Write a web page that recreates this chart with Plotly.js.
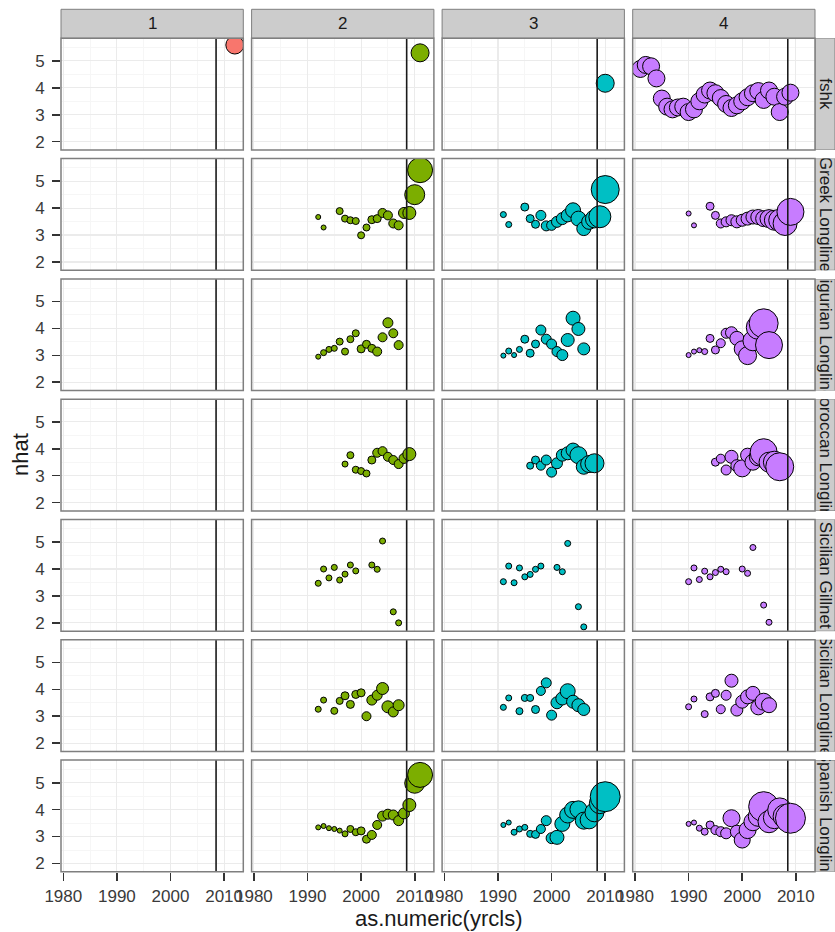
<!DOCTYPE html>
<html><head><meta charset="utf-8">
<script src="https://cdn.plot.ly/plotly-3.0.1.min.js"></script>
<style>html,body{margin:0;padding:0;background:#fff;}#chart{width:835px;height:932px;}</style>
</head><body><div id="chart"></div>
<script>
// ---------- data ----------
const colLabels = ["1", "2", "3", "4"];
const rowLabels = ["fshk", "Greek Longline", "Ligurian Longline", "Moroccan Longline",
                   "Sicilian Gillnet", "Sicilian Longline", "Spanish Longline"];
const groupColors = ["#F8766D", "#7CAE00", "#00BFC4", "#C77CFF"];
const refYear = 2008.5;

const fshk_1_yr = [2012], fshk_1_nhat = [5.59], fshk_1_wt = [32.4];
const fshk_2_yr = [2011], fshk_2_nhat = [5.3], fshk_2_wt = [32.4];
const fshk_3_yr = [2010], fshk_3_nhat = [4.17], fshk_3_wt = [32.4];
const fshk_4_yr = [1981,1982,1983,1984,1985,1986,1987,1988,1989,1990,1991,1992,1993,1994,1995,1996,1997,1998,1999,2000,2001,2002,2003,2004,2005,2006,2007,2008,2009];
const fshk_4_nhat = [4.7,4.85,4.8,4.35,3.6,3.3,3.2,3.27,3.3,3.1,3.2,3.5,3.75,3.9,3.8,3.62,3.4,3.25,3.35,3.5,3.65,3.8,3.88,3.55,3.9,3.67,3.1,3.67,3.82];
const fshk_4_wt = [28.9,28.9,28.9,28.9,28.9,28.9,28.9,28.9,28.9,28.9,28.9,28.9,28.9,28.9,28.9,28.9,28.9,28.9,28.9,28.9,28.9,28.9,28.9,28.9,28.9,28.9,28.9,28.9,28.9];

const greek_2_yr = [1992,1993,1996,1997,1998,1999,2000,2001,2002,2003,2004,2005,2006,2007,2008,2009,2010,2011];
const greek_2_nhat = [3.67,3.28,3.89,3.61,3.55,3.52,2.99,3.28,3.57,3.61,3.82,3.73,3.43,3.36,3.82,3.82,4.5,5.41];
const greek_2_wt = [2.5,2.5,4.9,4.9,4.9,4.9,4.9,4.9,6.4,6.4,8.1,8.1,8.1,8.1,12.1,16.9,40,62.5];
const greek_3_yr = [1991,1992,1995,1996,1997,1998,1999,2000,2001,2002,2003,2004,2005,2006,2007,2008,2009,2010];
const greek_3_nhat = [3.76,3.39,4.04,3.61,3.4,3.73,3.34,3.36,3.49,3.61,3.73,3.92,3.61,3.24,3.49,3.6,3.68,4.69];
const greek_3_wt = [3.6,3.6,6.4,6.4,6.4,10,10,10,12.1,14.4,16.9,22.5,22.5,19.6,22.5,32.4,48.4,78.4];
const greek_4_yr = [1990,1991,1994,1995,1996,1997,1998,1999,2000,2001,2002,2003,2004,2005,2006,2007,2008,2009];
const greek_4_nhat = [3.8,3.36,4.07,3.73,3.43,3.49,3.55,3.49,3.55,3.61,3.67,3.67,3.61,3.61,3.55,3.55,3.43,3.86];
const greek_4_wt = [2.5,2.5,6.4,6.4,8.1,10,12.1,14.4,14.4,16.9,19.6,22.5,25.6,32.4,40,48.4,57.6,72.9];

const ligur_2_yr = [1992,1993,1994,1995,1996,1997,1998,1999,2000,2001,2002,2003,2004,2005,2006,2007];
const ligur_2_nhat = [2.95,3.1,3.22,3.26,3.51,3.14,3.6,3.82,3.24,3.41,3.26,3.14,3.67,4.21,3.82,3.38];
const ligur_2_wt = [2.5,3.6,3.6,3.6,4.9,4.9,4.9,4.9,6.4,6.4,6.4,8.1,8.1,10,8.1,8.1];
const ligur_3_yr = [1991,1992,1993,1994,1995,1996,1997,1998,1999,2000,2001,2002,2003,2004,2005,2006];
const ligur_3_nhat = [2.99,3.16,3.01,3.22,3.6,3.08,3.42,3.94,3.6,3.42,3.14,3.01,3.57,4.38,3.98,3.24];
const ligur_3_wt = [2.5,3.6,2.5,3.6,6.4,6.4,6.4,10,10,10,10,12.1,16.9,19.6,16.9,14.4];
const ligur_4_yr = [1990,1991,1992,1993,1994,1995,1996,1997,1998,1999,2000,2001,2002,2003,2004,2005];
const ligur_4_nhat = [3.01,3.14,3.19,3.14,3.63,3.2,3.45,3.82,3.84,3.63,3.24,2.99,3.54,4.04,4.19,3.38];
const ligur_4_wt = [2.5,2.5,2.5,3.6,6.4,6.4,8.1,10,14.4,19.6,25.6,32.4,40,57.6,84.1,72.9];

const moroc_2_yr = [1997,1998,1999,2000,2001,2002,2003,2004,2005,2006,2007,2008,2009];
const moroc_2_nhat = [3.43,3.76,3.22,3.17,3.08,3.58,3.85,3.91,3.7,3.58,3.43,3.64,3.8];
const moroc_2_wt = [3.6,4.9,4.9,4.9,4.9,6.4,8.1,8.1,8.1,8.1,8.1,10,16.9];
const moroc_3_yr = [1996,1997,1998,1999,2000,2001,2002,2003,2004,2005,2006,2007,2008];
const moroc_3_nhat = [3.37,3.58,3.37,3.58,3.13,3.46,3.76,3.83,3.95,3.76,3.33,3.43,3.46];
const moroc_3_wt = [4.9,6.4,8.1,10,10,12.1,14.4,16.9,19.6,28.9,22.5,28.9,36.1];
const moroc_4_yr = [1995,1996,1997,1998,1999,2000,2001,2002,2003,2004,2005,2006,2007];
const moroc_4_nhat = [3.5,3.63,3.21,3.7,3.37,3.27,3.76,3.5,3.7,3.87,3.5,3.5,3.33];
const moroc_4_wt = [6.4,8.1,10,16.9,14.4,28.9,19.6,25.6,32.4,72.9,40,48.4,78.4];

const sicgn_2_yr = [1992,1993,1994,1995,1996,1997,1998,1999,2002,2003,2004,2006,2007];
const sicgn_2_nhat = [3.47,4.0,3.67,4.06,3.59,3.81,4.15,3.93,4.15,3.99,5.04,2.41,2.0];
const sicgn_2_wt = [3.6,3.6,3.6,3.6,3.6,3.6,3.6,3.6,3.6,3.6,3.6,3.6,3.6];
const sicgn_3_yr = [1991,1992,1993,1994,1995,1996,1997,1998,2001,2002,2003,2005,2006];
const sicgn_3_nhat = [3.53,4.11,3.49,4.04,3.71,3.8,3.99,4.11,4.06,3.9,4.95,2.6,1.85];
const sicgn_3_wt = [3.6,3.6,3.6,3.6,3.6,3.6,3.6,3.6,3.6,3.6,3.6,3.6,3.6];
const sicgn_4_yr = [1990,1991,1992,1993,1994,1995,1996,1997,2000,2001,2002,2004,2005];
const sicgn_4_nhat = [3.53,4.04,3.61,3.92,3.71,3.87,3.99,3.9,4.0,3.84,4.8,2.66,2.02];
const sicgn_4_wt = [3.6,3.6,3.6,3.6,3.6,3.6,3.6,3.6,3.6,3.6,3.6,3.6,3.6];

const sicll_2_yr = [1992,1993,1995,1996,1997,1998,1999,2000,2001,2002,2003,2004,2005,2006,2007];
const sicll_2_nhat = [3.26,3.6,3.2,3.57,3.76,3.44,3.81,3.87,3.0,3.6,3.78,4.03,3.35,3.16,3.41];
const sicll_2_wt = [3.6,3.6,4.9,4.9,6.4,6.4,6.4,6.4,8.1,10,10,14.4,14.4,10,12.1];
const sicll_3_yr = [1991,1992,1994,1995,1996,1997,1998,1999,2000,2001,2002,2003,2004,2005,2006];
const sicll_3_nhat = [3.33,3.68,3.19,3.68,3.68,3.25,3.94,4.24,3.04,3.5,3.66,3.93,3.54,3.41,3.25];
const sicll_3_wt = [3.6,3.6,4.9,4.9,4.9,6.4,8.1,10,10,14.4,16.9,22.5,16.9,16.9,14.4];
const sicll_4_yr = [1990,1991,1993,1994,1995,1996,1997,1998,1999,2000,2001,2002,2003,2004,2005];
const sicll_4_nhat = [3.35,3.64,3.08,3.72,3.85,3.26,3.78,4.32,3.23,3.54,3.72,3.85,3.33,3.54,3.41];
const sicll_4_wt = [3.6,3.6,4.9,6.4,6.4,8.1,10,16.9,14.4,16.9,19.6,19.6,22.5,28.9,22.5];

const spain_2_yr = [1992,1993,1994,1995,1996,1997,1998,1999,2000,2001,2002,2003,2004,2005,2006,2007,2008,2009,2010,2011];
const spain_2_nhat = [3.34,3.39,3.31,3.28,3.22,3.1,3.28,3.16,3.21,2.9,3.06,3.43,3.76,3.83,3.8,3.59,3.86,4.17,4.98,5.29];
const spain_2_wt = [2.5,2.5,2.5,2.5,2.5,3.6,4.9,4.9,6.4,6.4,8.1,8.1,10,10,10,10,12.1,16.9,40,62.5];
const spain_3_yr = [1991,1992,1993,1994,1995,1996,1997,1998,1999,2000,2001,2002,2003,2004,2005,2006,2007,2008,2009,2010];
const spain_3_nhat = [3.43,3.52,3.16,3.28,3.34,3.1,3.08,3.28,3.59,2.94,2.97,3.47,3.8,3.99,4.01,3.59,3.62,3.9,4.24,4.48];
const spain_3_wt = [2.5,2.5,3.6,3.6,3.6,4.9,6.4,8.1,10,12.1,19.6,22.5,25.6,28.9,28.9,28.9,32.4,36.1,44.1,90];
const spain_4_yr = [1990,1991,1992,1993,1994,1995,1996,1997,1998,1999,2000,2001,2002,2003,2004,2005,2006,2007,2008,2009];
const spain_4_nhat = [3.47,3.52,3.31,3.18,3.43,3.24,3.18,3.12,3.68,3.18,2.87,3.24,3.55,3.75,4.11,3.55,3.7,3.99,3.75,3.68];
const spain_4_wt = [2.5,2.5,3.6,4.9,6.4,8.1,10,12.1,28.9,16.9,25.6,28.9,32.4,40,90,48.4,48.4,57.6,57.6,90];

// ---------- layout geometry (pixels) ----------
const W = 835, H = 932;
const colLeft = [61, 251.6, 442.1, 632.7], panelW = 182.3;
const rowTop0 = 38.3, rowPitch = 120.3, panelH = 111.7;
const stripTopY = 9.3, stripRightX0 = 815;
const xRange = [1979.57, 2013.58], yRange = [1.69, 5.84];
const FONT = "Liberation Sans, Arial, Helvetica, sans-serif";

const px = v => v / W;
const py = v => 1 - v / H;
const rowTop = r => rowTop0 + (r - 1) * rowPitch;

const panels = [
  [1,1,fshk_1_yr,fshk_1_nhat,fshk_1_wt],[1,2,fshk_2_yr,fshk_2_nhat,fshk_2_wt],
  [1,3,fshk_3_yr,fshk_3_nhat,fshk_3_wt],[1,4,fshk_4_yr,fshk_4_nhat,fshk_4_wt],
  [2,2,greek_2_yr,greek_2_nhat,greek_2_wt],[2,3,greek_3_yr,greek_3_nhat,greek_3_wt],[2,4,greek_4_yr,greek_4_nhat,greek_4_wt],
  [3,2,ligur_2_yr,ligur_2_nhat,ligur_2_wt],[3,3,ligur_3_yr,ligur_3_nhat,ligur_3_wt],[3,4,ligur_4_yr,ligur_4_nhat,ligur_4_wt],
  [4,2,moroc_2_yr,moroc_2_nhat,moroc_2_wt],[4,3,moroc_3_yr,moroc_3_nhat,moroc_3_wt],[4,4,moroc_4_yr,moroc_4_nhat,moroc_4_wt],
  [5,2,sicgn_2_yr,sicgn_2_nhat,sicgn_2_wt],[5,3,sicgn_3_yr,sicgn_3_nhat,sicgn_3_wt],[5,4,sicgn_4_yr,sicgn_4_nhat,sicgn_4_wt],
  [6,2,sicll_2_yr,sicll_2_nhat,sicll_2_wt],[6,3,sicll_3_yr,sicll_3_nhat,sicll_3_wt],[6,4,sicll_4_yr,sicll_4_nhat,sicll_4_wt],
  [7,2,spain_2_yr,spain_2_nhat,spain_2_wt],[7,3,spain_3_yr,spain_3_nhat,spain_3_wt],[7,4,spain_4_yr,spain_4_nhat,spain_4_wt]
];

const xName = c => 'x' + (c === 1 ? '' : c);
const yName = r => 'y' + (r === 1 ? '' : r);
const axKey = (letter, n) => letter + 'axis' + (n === 1 ? '' : n);

const traces = [];
panels.forEach(([r, c, yr, nh, wt]) => {
  traces.push({
    type: 'scatter', mode: 'markers', x: yr, y: nh,
    xaxis: xName(c), yaxis: yName(r),
    marker: { size: wt, sizemode: 'area', sizeref: 0.2, color: groupColors[c - 1],
              line: { color: '#000000', width: 1 }, opacity: 1 },
    hoverinfo: 'x+y', showlegend: false
  });
});
// empty facets (column 1, rows 2-7): placeholder traces with no drawable point so the subplot exists
for (let r = 2; r <= 7; r++) {
  traces.push({ type: 'scatter', mode: 'markers', x: [null], y: [null],
                xaxis: 'x', yaxis: yName(r), hoverinfo: 'skip', showlegend: false });
}

// right-hand strips: one bar per row in its own subplot so the label is clipped to the strip
rowLabels.forEach((lab, i) => {
  const r = i + 1;
  traces.push({
    type: 'bar', x: [0], y: [1], width: [1], base: [0],
    xaxis: 'x5', yaxis: 'y' + (7 + r),
    marker: { color: '#CCCCCC', line: { color: '#7F7F7F', width: 1 } },
    text: [lab], textposition: 'inside', textangle: 90, insidetextanchor: 'middle',
    constraintext: 'none', cliponaxis: true,
    textfont: { family: FONT, size: 17, color: '#1A1A1A' },
    insidetextfont: { family: FONT, size: 17, color: '#1A1A1A' },
    hoverinfo: 'skip', showlegend: false
  });
});

const layout = {
  width: W, height: H, margin: { l: 0, r: 0, t: 0, b: 0 },
  paper_bgcolor: '#FFFFFF', plot_bgcolor: '#FFFFFF',
  font: { family: FONT, size: 17, color: '#333333' },
  showlegend: false, bargap: 0, hovermode: 'closest',
  shapes: [], annotations: []
};

const axCommon = {
  showline: false, zeroline: false,
  showgrid: true, gridcolor: '#EBEBEB', gridwidth: 1.1,
  ticks: 'outside', ticklen: 8, tickwidth: 1.6, tickcolor: '#333333',
  tickfont: { family: FONT, size: 17, color: '#3A3A3A' }, fixedrange: true
};

for (let c = 1; c <= 4; c++) {
  layout[axKey('x', c)] = Object.assign({}, axCommon, {
    domain: [px(colLeft[c - 1]), px(colLeft[c - 1] + panelW)],
    range: xRange, anchor: 'y7', tickmode: 'linear', tick0: 1980, dtick: 10,
    minor: { dtick: 5, tick0: 1980, showgrid: true, gridcolor: '#F6F6F6', gridwidth: 1 },
    ticklabelstandoff: 1
  });
}
for (let r = 1; r <= 7; r++) {
  const t = rowTop(r);
  layout[axKey('y', r)] = Object.assign({}, axCommon, {
    domain: [py(t + panelH), py(t)],
    range: yRange, anchor: 'x', tickmode: 'linear', tick0: 2, dtick: 1,
    minor: { dtick: 0.5, tick0: 2, showgrid: true, gridcolor: '#F6F6F6', gridwidth: 1 },
    ticklabelstandoff: 4
  });
}
// strip subplots
layout.xaxis5 = { domain: [px(stripRightX0), 1], range: [-0.5, 0.5], anchor: 'y8', visible: false, fixedrange: true };
for (let r = 1; r <= 7; r++) {
  const t = rowTop(r);
  layout['yaxis' + (7 + r)] = { domain: [py(t + panelH), py(t)], range: [0, 1], anchor: 'x5', visible: false, fixedrange: true };
}

for (let r = 1; r <= 7; r++) {
  for (let c = 1; c <= 4; c++) {
    // reference year line in every panel
    layout.shapes.push({
      type: 'line', xref: xName(c), yref: yName(r) + ' domain',
      x0: refYear, x1: refYear, y0: 0, y1: 1,
      line: { color: '#1A1A1A', width: 1.6 }, layer: 'above'
    });
    // panel border
    layout.shapes.push({
      type: 'rect', xref: xName(c) + ' domain', yref: yName(r) + ' domain',
      x0: 0, x1: 1, y0: 0, y1: 1,
      line: { color: '#7F7F7F', width: 1.5 }, fillcolor: 'rgba(0,0,0,0)', layer: 'above'
    });
  }
}
// top strips
colLabels.forEach((lab, i) => {
  const x0 = px(colLeft[i]), x1 = px(colLeft[i] + panelW);
  layout.shapes.push({
    type: 'rect', xref: 'paper', yref: 'paper', x0: x0, x1: x1,
    y0: py(rowTop0), y1: py(stripTopY),
    fillcolor: '#CCCCCC', line: { color: '#7F7F7F', width: 1 }, layer: 'below'
  });
  layout.annotations.push({
    xref: 'paper', yref: 'paper', x: (x0 + x1) / 2, y: py((rowTop0 + stripTopY) / 2),
    text: lab, showarrow: false, xanchor: 'center', yanchor: 'middle',
    font: { family: FONT, size: 17, color: '#1A1A1A' }
  });
});
// axis titles
layout.annotations.push({
  xref: 'paper', yref: 'paper', x: px((colLeft[0] + colLeft[3] + panelW) / 2), y: py(918),
  text: 'as.numeric(yrcls)', showarrow: false, xanchor: 'center', yanchor: 'middle',
  font: { family: FONT, size: 22, color: '#1A1A1A' }
});
layout.annotations.push({
  xref: 'paper', yref: 'paper', x: px(20), y: py(rowTop0 + (rowTop(7) + panelH - rowTop0) / 2),
  text: 'nhat', showarrow: false, textangle: -90, xanchor: 'center', yanchor: 'middle',
  font: { family: FONT, size: 22, color: '#1A1A1A' }
});

Plotly.newPlot('chart', traces, layout, { displayModeBar: false, staticPlot: true });
</script>
</body></html>
